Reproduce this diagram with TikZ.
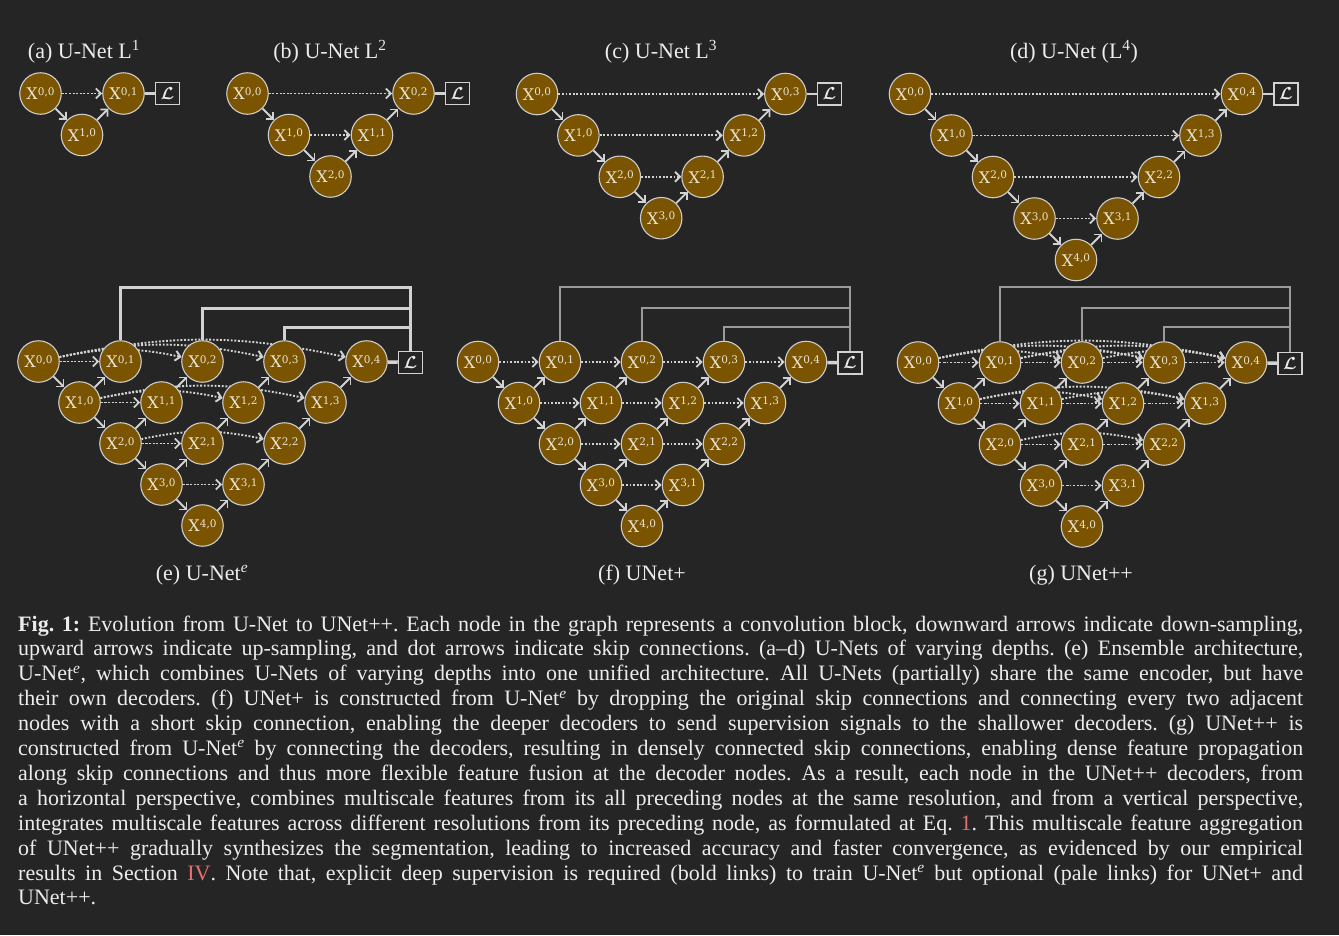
\documentclass[tikz,border=0pt]{standalone}
\usepackage{fontspec}
\usepackage{bm}
\setmainfont{Liberation Serif}
\newfontfamily\nodefont{DejaVu Serif}
\usetikzlibrary{arrows.meta}
\definecolor{bg}{RGB}{37,37,37}
\definecolor{nodefill}{RGB}{122,84,0}
\definecolor{nodeborder}{RGB}{205,205,205}
\definecolor{linecol}{RGB}{210,210,210}
\definecolor{palecol}{RGB}{155,155,155}
\definecolor{textcol}{RGB}{236,236,236}
\definecolor{nodetext}{RGB}{235,228,210}
\definecolor{redlink}{RGB}{235,110,110}
\pgfdeclarelayer{back}
\pgfdeclarelayer{links}
\pgfsetlayers{back,links,main}

\newcommand{\xlab}[2]{{\nodefont\fontsize{16}{16}\selectfont X\raisebox{4.8pt}{\fontsize{10.5}{10.5}\selectfont #1,#2}}}

\tikzset{
  unode/.style={circle, draw=nodeborder, line width=1.1pt, fill=nodefill, minimum size=41.5pt, inner sep=0pt, text=nodetext},
  samp/.style={draw=linecol, line width=1.8pt, -{Straight Barb[length=5pt,width=10pt]}},
  skiplink/.style={samp, line width=1.9pt, dash pattern=on 1.9pt off 1.7pt},
  lossbox/.style={draw=linecol, line width=1.5pt, fill=bg, minimum width=24pt, minimum height=22pt, inner sep=0pt, text=textcol, font=\fontsize{17}{17}\selectfont},
  losslink/.style={draw=linecol, line width=2.2pt},
  lossbold/.style={draw=linecol, line width=3.5pt},
  supbold/.style={draw=linecol, line width=3pt},
  suppale/.style={draw=palecol, line width=1.3pt},
  title/.style={text=textcol, font=\fontsize{22}{26}\selectfont, anchor=base, inner sep=0pt},
}

\newcommand{\simpleunet}[5]{%
  \foreach \vi in {0,...,#4}{%
    \node[unode] (#1\vi0) at ({#2+#5*\vi},{#3+#5*\vi}) {\xlab{\vi}{0}};
  }
  \pgfmathtruncatemacro{\Lm}{#4-1}
  \foreach \vi in {0,...,\Lm}{%
    \pgfmathtruncatemacro{\vj}{#4-\vi}
    \node[unode] (#1\vi\vj) at ({#2+#5*(\vi+2*\vj)},{#3+#5*\vi}) {\xlab{\vi}{\vj}};
  }
  \node[lossbox] (#1L) at ({#2+#5*2*#4+44},{#3}) {$\bm{\mathcal{L}}$};
  \begin{pgfonlayer}{links}
  \foreach \vi in {0,...,\Lm}{%
    \pgfmathtruncatemacro{\vip}{\vi+1}
    \pgfmathtruncatemacro{\vj}{#4-\vi}
    \pgfmathtruncatemacro{\vjm}{\vj-1}
    \draw[samp] (#1\vi0) -- (#1\vip0);
    \draw[samp] (#1\vip\vjm) -- (#1\vi\vj);
    \draw[skiplink] (#1\vi0) -- (#1\vi\vj);
  }
  \draw[losslink] (#10#4) -- (#1L);
  \end{pgfonlayer}
}

\newcommand{\fullunet}[4]{%
  \foreach \vi in {0,...,4}{%
    \pgfmathtruncatemacro{\jmax}{4-\vi}
    \foreach \vj in {0,...,\jmax}{%
      \node[unode] (#1\vi\vj) at ({#2+#4*(\vi+2*\vj)},{#3+#4*\vi}) {\xlab{\vi}{\vj}};
    }
  }
  \node[lossbox] (#1L) at ({#2+#4*8+44},{#3+1}) {$\bm{\mathcal{L}}$};
  \begin{pgfonlayer}{links}
  \foreach \vi in {0,...,3}{%
    \pgfmathtruncatemacro{\vip}{\vi+1}
    \pgfmathtruncatemacro{\jmax}{3-\vi}
    \draw[samp] (#1\vi0) -- (#1\vip0);
    \foreach \vj in {0,...,\jmax}{%
      \pgfmathtruncatemacro{\vjp}{\vj+1}
      \draw[samp] (#1\vip\vj) -- (#1\vi\vjp);
    }
  }
  \draw[lossbold] (#104) -- (#1L);
  \end{pgfonlayer}
}

\newcommand{\skipsE}[1]{%
  \begin{pgfonlayer}{links}
  \foreach \vi in {0,...,3}{%
    \pgfmathtruncatemacro{\kmax}{4-\vi}
    \foreach \vk in {1,...,\kmax}{%
      \pgfmathtruncatemacro{\bnd}{\vk>1 ? 12 : 0}
      \draw[skiplink] (#1\vi0) to[bend left=\bnd] (#1\vi\vk);
    }
  }
  \end{pgfonlayer}}

\newcommand{\skipsF}[1]{%
  \begin{pgfonlayer}{links}
  \foreach \vi in {0,...,3}{%
    \pgfmathtruncatemacro{\jmax}{3-\vi}
    \foreach \vj in {0,...,\jmax}{%
      \pgfmathtruncatemacro{\vjp}{\vj+1}
      \draw[skiplink] (#1\vi\vj) -- (#1\vi\vjp);
    }
  }
  \end{pgfonlayer}}

\newcommand{\skipsG}[1]{%
  \begin{pgfonlayer}{links}
  \foreach \vi in {0,...,3}{%
    \pgfmathtruncatemacro{\jmax}{3-\vi}
    \pgfmathtruncatemacro{\kmax}{4-\vi}
    \foreach \vj in {0,...,\jmax}{%
      \pgfmathtruncatemacro{\vjp}{\vj+1}
      \foreach \vk in {\vjp,...,\kmax}{%
        \pgfmathtruncatemacro{\bnd}{\vk>\vjp ? 12 : 0}
        \draw[skiplink] (#1\vi\vj) to[bend left=\bnd] (#1\vi\vk);
      }
    }
  }
  \end{pgfonlayer}}

\newcommand{\suplines}[2]{%
  \draw[#2] (#101.north) |- (#1L.north |- 0,287) -- (#1L.north);
  \draw[#2] (#102.north) |- (#1L.north |- 0,308);
  \draw[#2] (#103.north) |- (#1L.north |- 0,327);
}

\begin{document}
\begin{tikzpicture}[x=1pt,y=-1pt]
\useasboundingbox (0,0) rectangle (1339,935);
\begin{pgfonlayer}{back}
\fill[bg] (0,0) rectangle (1339,935);
\end{pgfonlayer}

% titles
\node[title] (ta) at (84,58) {(a) U-Net L\textsuperscript{1}};
\node[title] (tb) at (330,58) {(b) U-Net L\textsuperscript{2}};
\node[title] (tc) at (661,58) {(c) U-Net L\textsuperscript{3}};
\node[title] (td) at (1074,58) {(d) U-Net (L\textsuperscript{4})};
\node[title] (te) at (202,580) {(e) U-Net\textsuperscript{\textit{e}}};
\node[title] (tf) at (642,580) {(f) UNet+};
\node[title] (tg) at (1081,580) {(g) UNet++};

% top row U-Nets
\simpleunet{a}{40.5}{93.5}{1}{41.5}
\simpleunet{b}{247.5}{93.5}{2}{41.5}
\simpleunet{c}{537}{94}{3}{41.4}
\simpleunet{d}{910}{94}{4}{41.5}

% bottom row
\fullunet{e}{38.5}{361.5}{41}
\skipsE{e}
\suplines{e}{supbold}

\fullunet{f}{478}{362}{41}
\skipsF{f}
\suplines{f}{suppale}

\fullunet{g}{918}{362.5}{41}
\skipsG{g}
\suplines{g}{suppale}

% caption
\node[anchor=base west, inner sep=0pt, text=textcol] (caption) at (18,631) {\parbox[t]{1285pt}{\fontsize{22}{24.9}\selectfont\frenchspacing
\makebox[1285pt][s]{\textbf{Fig. 1:} Evolution from U-Net to UNet++. Each node in the graph represents a convolution block, downward arrows indicate down-sampling,}\\
\makebox[1285pt][s]{upward arrows indicate up-sampling, and dot arrows indicate skip connections. (a--d) U-Nets of varying depths. (e) Ensemble architecture,}\\
\makebox[1285pt][s]{U-Net\textsuperscript{\textit{e}}, which combines U-Nets of varying depths into one unified architecture. All U-Nets (partially) share the same encoder, but have}\\
\makebox[1285pt][s]{their own decoders. (f) UNet+ is constructed from U-Net\textsuperscript{\textit{e}} by dropping the original skip connections and connecting every two adjacent}\\
\makebox[1285pt][s]{nodes with a short skip connection, enabling the deeper decoders to send supervision signals to the shallower decoders. (g) UNet++ is}\\
\makebox[1285pt][s]{constructed from U-Net\textsuperscript{\textit{e}} by connecting the decoders, resulting in densely connected skip connections, enabling dense feature propagation}\\
\makebox[1285pt][s]{along skip connections and thus more flexible feature fusion at the decoder nodes. As a result, each node in the UNet++ decoders, from}\\
\makebox[1285pt][s]{a horizontal perspective, combines multiscale features from its all preceding nodes at the same resolution, and from a vertical perspective,}\\
\makebox[1285pt][s]{integrates multiscale features across different resolutions from its preceding node, as formulated at Eq. \textcolor{redlink}{1}. This multiscale feature aggregation}\\
\makebox[1285pt][s]{of UNet++ gradually synthesizes the segmentation, leading to increased accuracy and faster convergence, as evidenced by our empirical}\\
\makebox[1285pt][s]{results in Section \textcolor{redlink}{IV}. Note that, explicit deep supervision is required (bold links) to train U-Net\textsuperscript{\textit{e}} but optional (pale links) for UNet+ and}\\
UNet++.}};
\end{tikzpicture}
\end{document}
